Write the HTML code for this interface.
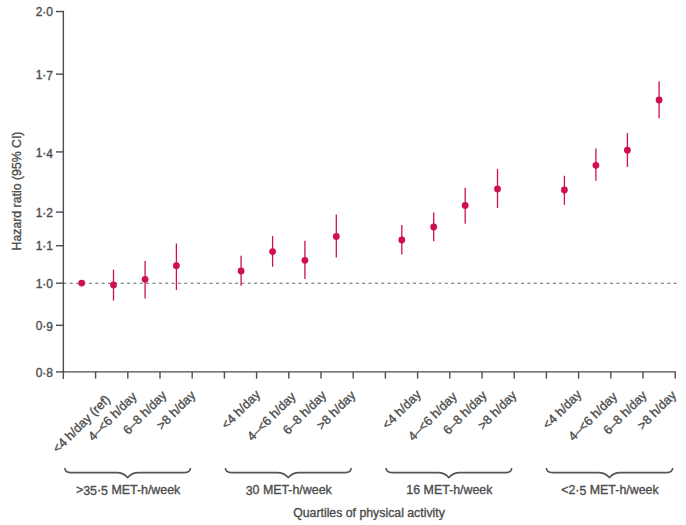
<!DOCTYPE html>
<html><head><meta charset="utf-8"><style>
html,body{margin:0;padding:0;background:#fff;width:686px;height:525px;overflow:hidden}
svg{position:absolute;left:0;top:0;display:block}
svg text{font-family:"Liberation Sans",sans-serif;fill:#4d4d4d;stroke:#4d4d4d;stroke-width:0.35px}
</style></head><body>
<svg width="686" height="525" viewBox="0 0 686 525">
<line x1="63.5" y1="283.2" x2="680" y2="283.2" stroke="#5f6666" stroke-width="1.1" stroke-dasharray="3 3.355"/>
<line x1="63.35" y1="10.860000000000001" x2="63.35" y2="379" stroke="#4d4d4d" stroke-width="1.4"/>
<line x1="62.65" y1="371.9" x2="675.9" y2="371.9" stroke="#4d4d4d" stroke-width="1.4"/>
<line x1="56" y1="11.56" x2="63.35" y2="11.56" stroke="#4d4d4d" stroke-width="1.4"/>
<text x="53" y="16.16" text-anchor="end" font-size="12">2·0</text>
<line x1="56" y1="74.14" x2="63.35" y2="74.14" stroke="#4d4d4d" stroke-width="1.4"/>
<text x="53" y="78.74" text-anchor="end" font-size="12">1·<tspan dy="1.40">7</tspan></text>
<line x1="56" y1="151.90" x2="63.35" y2="151.90" stroke="#4d4d4d" stroke-width="1.4"/>
<text x="53" y="156.50" text-anchor="end" font-size="12">1·<tspan dy="1.40">4</tspan></text>
<line x1="56" y1="212.10" x2="63.35" y2="212.10" stroke="#4d4d4d" stroke-width="1.4"/>
<text x="53" y="216.70" text-anchor="end" font-size="12">1·2</text>
<line x1="56" y1="245.70" x2="63.35" y2="245.70" stroke="#4d4d4d" stroke-width="1.4"/>
<text x="53" y="250.30" text-anchor="end" font-size="12">1·1</text>
<line x1="56" y1="283.20" x2="63.35" y2="283.20" stroke="#4d4d4d" stroke-width="1.4"/>
<text x="53" y="287.80" text-anchor="end" font-size="12">1·0</text>
<line x1="56" y1="325.30" x2="63.35" y2="325.30" stroke="#4d4d4d" stroke-width="1.4"/>
<text x="53" y="329.90" text-anchor="end" font-size="12">0·<tspan dy="1.40">9</tspan></text>
<line x1="56" y1="371.90" x2="63.35" y2="371.90" stroke="#4d4d4d" stroke-width="1.4"/>
<text x="53" y="376.50" text-anchor="end" font-size="12">0·8</text>
<line x1="95.60" y1="371.9" x2="95.60" y2="378.6" stroke="#4d4d4d" stroke-width="1.4"/>
<line x1="127.80" y1="371.9" x2="127.80" y2="378.6" stroke="#4d4d4d" stroke-width="1.4"/>
<line x1="160.00" y1="371.9" x2="160.00" y2="378.6" stroke="#4d4d4d" stroke-width="1.4"/>
<line x1="192.20" y1="371.9" x2="192.20" y2="378.6" stroke="#4d4d4d" stroke-width="1.4"/>
<line x1="224.40" y1="371.9" x2="224.40" y2="378.6" stroke="#4d4d4d" stroke-width="1.4"/>
<line x1="256.60" y1="371.9" x2="256.60" y2="378.6" stroke="#4d4d4d" stroke-width="1.4"/>
<line x1="288.80" y1="371.9" x2="288.80" y2="378.6" stroke="#4d4d4d" stroke-width="1.4"/>
<line x1="321.00" y1="371.9" x2="321.00" y2="378.6" stroke="#4d4d4d" stroke-width="1.4"/>
<line x1="353.20" y1="371.9" x2="353.20" y2="378.6" stroke="#4d4d4d" stroke-width="1.4"/>
<line x1="385.40" y1="371.9" x2="385.40" y2="378.6" stroke="#4d4d4d" stroke-width="1.4"/>
<line x1="417.60" y1="371.9" x2="417.60" y2="378.6" stroke="#4d4d4d" stroke-width="1.4"/>
<line x1="449.80" y1="371.9" x2="449.80" y2="378.6" stroke="#4d4d4d" stroke-width="1.4"/>
<line x1="482.00" y1="371.9" x2="482.00" y2="378.6" stroke="#4d4d4d" stroke-width="1.4"/>
<line x1="514.20" y1="371.9" x2="514.20" y2="378.6" stroke="#4d4d4d" stroke-width="1.4"/>
<line x1="546.40" y1="371.9" x2="546.40" y2="378.6" stroke="#4d4d4d" stroke-width="1.4"/>
<line x1="578.60" y1="371.9" x2="578.60" y2="378.6" stroke="#4d4d4d" stroke-width="1.4"/>
<line x1="610.80" y1="371.9" x2="610.80" y2="378.6" stroke="#4d4d4d" stroke-width="1.4"/>
<line x1="643.00" y1="371.9" x2="643.00" y2="378.6" stroke="#4d4d4d" stroke-width="1.4"/>
<line x1="675.20" y1="371.9" x2="675.20" y2="378.6" stroke="#4d4d4d" stroke-width="1.4"/>
<circle cx="81.7" cy="283.1" r="3.4" fill="#d0104c"/>
<line x1="113.5" y1="269.6" x2="113.5" y2="300.6" stroke="#d0104c" stroke-width="1.3"/>
<circle cx="113.5" cy="285.0" r="3.4" fill="#d0104c"/>
<line x1="145.1" y1="261.0" x2="145.1" y2="298.6" stroke="#d0104c" stroke-width="1.3"/>
<circle cx="145.1" cy="279.3" r="3.4" fill="#d0104c"/>
<line x1="176.4" y1="243.5" x2="176.4" y2="290.0" stroke="#d0104c" stroke-width="1.3"/>
<circle cx="176.4" cy="265.7" r="3.4" fill="#d0104c"/>
<line x1="241.1" y1="255.8" x2="241.1" y2="285.8" stroke="#d0104c" stroke-width="1.3"/>
<circle cx="241.1" cy="271.0" r="3.4" fill="#d0104c"/>
<line x1="272.6" y1="236.1" x2="272.6" y2="266.7" stroke="#d0104c" stroke-width="1.3"/>
<circle cx="272.6" cy="251.6" r="3.4" fill="#d0104c"/>
<line x1="304.9" y1="240.7" x2="304.9" y2="278.9" stroke="#d0104c" stroke-width="1.3"/>
<circle cx="304.9" cy="260.3" r="3.4" fill="#d0104c"/>
<line x1="336.3" y1="214.5" x2="336.3" y2="257.4" stroke="#d0104c" stroke-width="1.3"/>
<circle cx="336.3" cy="236.5" r="3.4" fill="#d0104c"/>
<line x1="401.8" y1="225.0" x2="401.8" y2="254.4" stroke="#d0104c" stroke-width="1.3"/>
<circle cx="401.8" cy="240.0" r="3.4" fill="#d0104c"/>
<line x1="433.7" y1="212.5" x2="433.7" y2="241.2" stroke="#d0104c" stroke-width="1.3"/>
<circle cx="433.7" cy="227.0" r="3.4" fill="#d0104c"/>
<line x1="465.2" y1="187.8" x2="465.2" y2="223.8" stroke="#d0104c" stroke-width="1.3"/>
<circle cx="465.2" cy="205.4" r="3.4" fill="#d0104c"/>
<line x1="497.5" y1="169.0" x2="497.5" y2="208.0" stroke="#d0104c" stroke-width="1.3"/>
<circle cx="497.5" cy="188.9" r="3.4" fill="#d0104c"/>
<line x1="564.4" y1="175.8" x2="564.4" y2="204.8" stroke="#d0104c" stroke-width="1.3"/>
<circle cx="564.4" cy="190.0" r="3.4" fill="#d0104c"/>
<line x1="595.9" y1="148.5" x2="595.9" y2="180.8" stroke="#d0104c" stroke-width="1.3"/>
<circle cx="595.9" cy="165.3" r="3.4" fill="#d0104c"/>
<line x1="627.4" y1="133.0" x2="627.4" y2="167.0" stroke="#d0104c" stroke-width="1.3"/>
<circle cx="627.4" cy="150.2" r="3.4" fill="#d0104c"/>
<line x1="659.1" y1="81.2" x2="659.1" y2="118.3" stroke="#d0104c" stroke-width="1.3"/>
<circle cx="659.1" cy="100.0" r="3.4" fill="#d0104c"/>
<text x="0" y="0" text-anchor="middle" font-size="12.6" transform="translate(84.30,426.90) rotate(-45)">&lt;4 h/day (ref)</text>
<text x="0" y="0" text-anchor="middle" font-size="12.6" transform="translate(115.30,419.40) rotate(-45)">4–&lt;6 h/day</text>
<text x="0" y="0" text-anchor="middle" font-size="12.6" transform="translate(147.70,415.60) rotate(-45)">6–8 h/day</text>
<text x="0" y="0" text-anchor="middle" font-size="12.6" transform="translate(179.00,413.20) rotate(-45)">&gt;8 h/day</text>
<text x="0" y="0" text-anchor="middle" font-size="12.6" transform="translate(243.70,412.60) rotate(-45)">&lt;4 h/day</text>
<text x="0" y="0" text-anchor="middle" font-size="12.6" transform="translate(274.40,419.40) rotate(-45)">4–&lt;6 h/day</text>
<text x="0" y="0" text-anchor="middle" font-size="12.6" transform="translate(307.50,415.60) rotate(-45)">6–8 h/day</text>
<text x="0" y="0" text-anchor="middle" font-size="12.6" transform="translate(338.90,413.20) rotate(-45)">&gt;8 h/day</text>
<text x="0" y="0" text-anchor="middle" font-size="12.6" transform="translate(404.40,412.60) rotate(-45)">&lt;4 h/day</text>
<text x="0" y="0" text-anchor="middle" font-size="12.6" transform="translate(435.50,419.40) rotate(-45)">4–&lt;6 h/day</text>
<text x="0" y="0" text-anchor="middle" font-size="12.6" transform="translate(467.80,415.60) rotate(-45)">6–8 h/day</text>
<text x="0" y="0" text-anchor="middle" font-size="12.6" transform="translate(500.10,413.20) rotate(-45)">&gt;8 h/day</text>
<text x="0" y="0" text-anchor="middle" font-size="12.6" transform="translate(565.00,412.60) rotate(-45)">&lt;4 h/day</text>
<text x="0" y="0" text-anchor="middle" font-size="12.6" transform="translate(595.70,419.40) rotate(-45)">4–&lt;6 h/day</text>
<text x="0" y="0" text-anchor="middle" font-size="12.6" transform="translate(628.00,415.60) rotate(-45)">6–8 h/day</text>
<text x="0" y="0" text-anchor="middle" font-size="12.6" transform="translate(659.70,413.20) rotate(-45)">&gt;8 h/day</text>
<path d="M64.8,468.0 C64.8,471.1 66.8,472.6 70.8,472.6 L116.6,472.6 C122.6,472.6 125.6,475.1 127.6,477.6 C129.6,475.1 132.6,472.6 138.6,472.6 L184.4,472.6 C188.4,472.6 190.4,471.1 190.4,468.0" fill="none" stroke="#555" stroke-width="1.6"/>
<text x="128.1" y="494.0" text-anchor="middle" font-size="12.4">&gt;<tspan dy="1.40">3</tspan>5<tspan dy="-1.40">·</tspan><tspan dy="1.40">5</tspan><tspan dy="-1.40"> </tspan>MET-h/week</text>
<path d="M225.4,468.0 C225.4,471.1 227.4,472.6 231.4,472.6 L277.2,472.6 C283.2,472.6 286.2,475.1 288.2,477.6 C290.2,475.1 293.2,472.6 299.2,472.6 L345.2,472.6 C349.2,472.6 351.2,471.1 351.2,468.0" fill="none" stroke="#555" stroke-width="1.6"/>
<text x="288.7" y="494.0" text-anchor="middle" font-size="12.4"><tspan dy="1.40">3</tspan><tspan dy="-1.40">0</tspan> MET-h/week</text>
<path d="M386.1,468.0 C386.1,471.1 388.1,472.6 392.1,472.6 L437.9,472.6 C443.9,472.6 446.9,475.1 448.9,477.6 C450.9,475.1 453.9,472.6 459.9,472.6 L505.6,472.6 C509.6,472.6 511.6,471.1 511.6,468.0" fill="none" stroke="#555" stroke-width="1.6"/>
<text x="449.4" y="494.0" text-anchor="middle" font-size="12.4">16 MET-h/week</text>
<path d="M546.4,468.0 C546.4,471.1 548.4,472.6 552.4,472.6 L598.4,472.6 C604.4,472.6 607.4,475.1 609.4,477.6 C611.4,475.1 614.4,472.6 620.4,472.6 L666.6,472.6 C670.6,472.6 672.6,471.1 672.6,468.0" fill="none" stroke="#555" stroke-width="1.6"/>
<text x="609.9" y="494.0" text-anchor="middle" font-size="12.4">&lt;2·<tspan dy="1.40">5</tspan><tspan dy="-1.40"> </tspan>MET-h/week</text>
<text x="369" y="517.3" text-anchor="middle" font-size="12.3">Quartiles of physical activity</text>
<text x="0" y="0" text-anchor="middle" font-size="12.3" transform="translate(21.1,191.0) rotate(-90)">Hazard ratio (95% CI)</text>
</svg>
</body></html>
